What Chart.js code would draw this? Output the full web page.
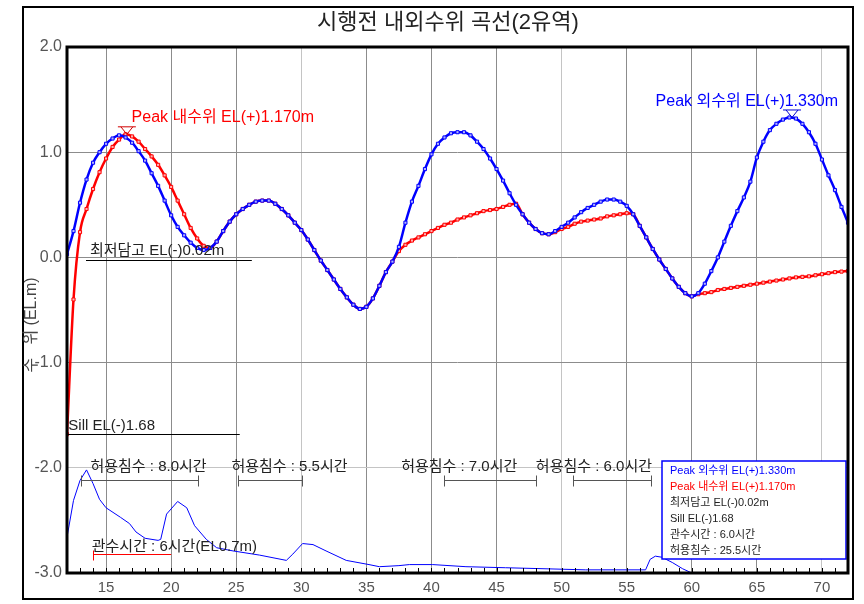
<!DOCTYPE html>
<html lang="ko">
<head>
<meta charset="UTF-8">
<title>시행전 내외수위 곡선(2유역)</title>
<script src="https://cdn.jsdelivr.net/npm/chart.js"></script>
<style>
    html, body { margin: 0; padding: 0; background: #fff; }
    canvas { display: block; }
</style>
</head>
<body>
<canvas id="levelChart" width="864" height="604"></canvas>
<script>
// 시간 (hr) - 0.5시간 간격
const hours = [12,12.5,13,13.5,14,14.5,15,15.5,16,16.5,17,17.5,18,18.5,19,19.5,20,20.5,21,21.5,22,22.5,23,23.5,24,24.5,25,25.5,26,26.5,27,27.5,28,28.5,29,29.5,30,30.5,31,31.5,32,32.5,33,33.5,34,34.5,35,35.5,36,36.5,37,37.5,38,38.5,39,39.5,40,40.5,41,41.5,42,42.5,43,43.5,44,44.5,45,45.5,46,46.5,47,47.5,48,48.5,49,49.5,50,50.5,51,51.5,52,52.5,53,53.5,54,54.5,55,55.5,56,56.5,57,57.5,58,58.5,59,59.5,60,60.5,61,61.5,62,62.5,63,63.5,64,64.5,65,65.5,66,66.5,67,67.5,68,68.5,69,69.5,70,70.5,71,71.5,72];

// 외수위 (EL.m)
const outerLevel = [
    0.03,0.25,0.52,0.74,0.90,1.00,1.08,1.13,1.16,
    1.14,1.09,1.01,0.92,0.80,0.68,0.54,0.40,0.29,
    0.21,0.14,0.09,0.07,0.09,0.15,0.25,0.34,0.41,
    0.46,0.50,0.53,0.54,0.54,0.51,0.46,0.40,0.33,
    0.26,0.17,0.07,-0.03,-0.12,-0.21,-0.30,-0.38,-0.45,
    -0.49,-0.47,-0.39,-0.27,-0.14,-0.04,0.10,0.33,0.53,
    0.68,0.84,0.98,1.08,1.14,1.18,1.19,1.19,1.16,
    1.10,1.03,0.94,0.84,0.73,0.61,0.50,0.41,0.33,
    0.27,0.23,0.22,0.25,0.29,0.33,0.38,0.43,0.47,
    0.50,0.53,0.55,0.55,0.53,0.49,0.41,0.30,0.19,
    0.08,-0.02,-0.11,-0.20,-0.28,-0.34,-0.37,-0.34,-0.25,
    -0.13,0.00,0.15,0.30,0.44,0.57,0.72,0.95,1.10,
    1.21,1.27,1.31,1.33,1.32,1.27,1.19,1.08,0.93,
    0.78,0.64,0.48,0.33
];

// 내수위 (EL.m)
const innerLevel = [
    -1.68,-0.40,0.24,0.46,0.65,0.81,0.94,1.05,1.12,
    1.17,1.15,1.10,1.03,0.96,0.88,0.78,0.67,0.54,
    0.41,0.28,0.18,0.11,0.09,0.15,0.25,0.34,0.41,
    0.46,0.50,0.53,0.54,0.54,0.51,0.46,0.40,0.33,
    0.26,0.17,0.07,-0.03,-0.12,-0.21,-0.30,-0.38,-0.45,
    -0.49,-0.47,-0.39,-0.27,-0.14,-0.04,0.06,0.12,0.16,
    0.19,0.22,0.25,0.28,0.31,0.33,0.36,0.38,0.40,
    0.42,0.44,0.45,0.46,0.48,0.50,0.51,0.41,0.33,
    0.27,0.23,0.22,0.24,0.27,0.29,0.32,0.34,0.35,
    0.36,0.37,0.39,0.40,0.41,0.42,0.41,0.30,0.19,
    0.08,-0.02,-0.11,-0.20,-0.28,-0.34,-0.37,-0.35,-0.34,
    -0.33,-0.31,-0.30,-0.29,-0.28,-0.27,-0.26,-0.25,-0.24,
    -0.23,-0.22,-0.21,-0.20,-0.19,-0.185,-0.18,-0.17,-0.16,
    -0.15,-0.14,-0.135,-0.13
];

// 하단 유입 곡선 (같은 축에 표시)
const flowHours = [12,12.5,13,13.5,14,14.5,15,16.1,16.8,17.3,18,19,19.2,19.65,20.5,21.2,21.8,22.7,23.5,24.75,26.8,28.85,29.35,30.1,30.9,31.9,33.45,35.2,36,37.5,38.3,40.1,42.65,45.7,48.8,51.85,56.45,56.8,57.2,57.7,58.5,59.3,60];
const flowLevel = [-2.66,-2.31,-2.12,-2.02,-2.15,-2.30,-2.38,-2.47,-2.53,-2.61,-2.67,-2.69,-2.68,-2.44,-2.32,-2.38,-2.55,-2.68,-2.76,-2.79,-2.83,-2.88,-2.82,-2.72,-2.73,-2.79,-2.88,-2.92,-2.94,-2.93,-2.92,-2.92,-2.94,-2.95,-2.96,-2.97,-2.97,-2.87,-2.84,-2.85,-2.90,-2.96,-3.0];

const xTickLabels = [15,20,25,30,35,40,45,50,55,60,65,70];
const yTickLabels = [-3,-2,-1,0,1,2];
const lightGridX = [30,50,70];
const lightGridY = [-2];

// 허용침수 구간
const allowTexts = ['허용침수 : 8.0시간','허용침수 : 5.5시간','허용침수 : 7.0시간','허용침수 : 6.0시간'];
const allowTextX = [13.8, 24.63, 37.67, 48.02];
const allowStart = [13.05, 25.1, 41.0, 50.9];
const allowEnd = [22.07, 30.05, 48.0, 56.9];

const legendTexts = ['Peak 외수위 EL(+)1.330m','Peak 내수위 EL(+)1.170m','최저담고 EL(-)0.02m','Sill EL(-)1.68','관수시간 : 6.0시간','허용침수 : 25.5시간'];
const legendColors = ['#0000ff','#ff0000','#222','#222','#222','#222'];

const FONT = '"Liberation Sans", "Noto Sans CJK KR", sans-serif';

const overlay = {
    id: 'overlay',
    afterDatasetsDraw(chart) {
        const { ctx, chartArea: a, scales: { x, y } } = chart;
        const px = v => x.getPixelForValue(v);
        const py = v => y.getPixelForValue(v);
        ctx.save();

        // 작은 눈금
        ctx.strokeStyle = '#000';
        ctx.lineWidth = 1;
        ctx.beginPath();
        for (let h = 13; h <= 71; h++) {
            const xx = Math.round(px(h)) + 0.5;
            ctx.moveTo(xx, a.bottom);
            ctx.lineTo(xx, a.bottom - 5);
        }
        ctx.stroke();

        ctx.textBaseline = 'middle';
        ctx.textAlign = 'left';

        // Peak 표시
        function peakMark(xv, yv, color) {
            const cx = px(xv), cy = py(yv);
            ctx.strokeStyle = color;
            ctx.lineWidth = 1;
            ctx.beginPath();
            ctx.moveTo(cx - 9, cy - 7.5);
            ctx.lineTo(cx + 9, cy - 7.5);
            ctx.moveTo(cx - 6, cy - 7.5);
            ctx.lineTo(cx, cy);
            ctx.lineTo(cx + 6, cy - 7.5);
            ctx.stroke();
        }
        peakMark(16.6, 1.17, '#d00000');
        peakMark(67.7, 1.33, '#0000d0');

        ctx.font = '16px ' + FONT;
        ctx.fillStyle = '#ff0000';
        ctx.fillText('Peak 내수위 EL(+)1.170m', px(16.96), py(1.33));
        ctx.fillStyle = '#0000ff';
        ctx.fillText('Peak 외수위 EL(+)1.330m', px(57.22), py(1.48));

        // 최저담고
        ctx.font = '15px ' + FONT;
        ctx.fillStyle = '#222';
        ctx.fillText('최저담고 EL(-)0.02m', px(13.76), py(0.06));
        ctx.strokeStyle = '#000';
        ctx.beginPath();
        ctx.moveTo(px(13.46), Math.round(py(-0.02)) + 0.5);
        ctx.lineTo(px(26.2), Math.round(py(-0.02)) + 0.5);
        ctx.stroke();

        // Sill
        ctx.fillText('Sill EL(-)1.68', px(12.1), py(-1.6));
        ctx.beginPath();
        ctx.moveTo(a.left, Math.round(py(-1.68)) + 0.5);
        ctx.lineTo(px(25.27), Math.round(py(-1.68)) + 0.5);
        ctx.stroke();

        // 허용침수
        ctx.strokeStyle = '#555';
        for (let i = 0; i < allowTexts.length; i++) {
            ctx.fillStyle = '#222';
            ctx.fillText(allowTexts[i], px(allowTextX[i]), py(-1.99));
            const yy = Math.round(py(-2.117)) + 0.5;
            const x1 = Math.round(px(allowStart[i])) + 0.5;
            const x2 = Math.round(px(allowEnd[i])) + 0.5;
            ctx.beginPath();
            ctx.moveTo(x1, yy); ctx.lineTo(x2, yy);
            ctx.moveTo(x1, yy - 5); ctx.lineTo(x1, yy + 6);
            ctx.moveTo(x2, yy - 5); ctx.lineTo(x2, yy + 6);
            ctx.stroke();
        }

        // 관수시간
        ctx.fillStyle = '#222';
        ctx.fillText('관수시간 : 6시간(EL0.7m)', px(13.9), py(-2.756));
        ctx.strokeStyle = '#ff0000';
        const ry = Math.round(py(-2.823)) + 0.5;
        ctx.beginPath();
        ctx.moveTo(px(14.0), ry); ctx.lineTo(px(20.0), ry);
        ctx.moveTo(Math.round(px(14.0)) + 0.5, ry - 4); ctx.lineTo(Math.round(px(14.0)) + 0.5, ry + 6);
        ctx.stroke();

        // 범례 상자
        ctx.fillStyle = '#fff';
        ctx.fillRect(662, 461, 184, 98);
        ctx.strokeStyle = '#0000ff';
        ctx.lineWidth = 1.5;
        ctx.strokeRect(662, 461, 184, 98);
        ctx.font = '11px ' + FONT;
        legendTexts.forEach((t, i) => {
            ctx.fillStyle = legendColors[i];
            ctx.fillText(t, 670, 471 + i * 16);
        });

        // 그래프 테두리
        ctx.strokeStyle = '#000';
        ctx.lineWidth = 3;
        ctx.strokeRect(a.left, a.top, a.right - a.left, a.bottom - a.top);
        ctx.restore();
    },
    afterDraw(chart) {
        const { ctx } = chart;
        ctx.save();
        // 외곽 테두리
        ctx.strokeStyle = '#000';
        ctx.lineWidth = 2;
        ctx.strokeRect(23, 7, 830, 592);
        // 제목
        ctx.fillStyle = '#222';
        ctx.font = '22px ' + FONT;
        ctx.textAlign = 'center';
        ctx.textBaseline = 'middle';
        ctx.fillText('시행전 내외수위 곡선(2유역)', 448, 23);
        // y축 제목
        ctx.translate(32, 325);
        ctx.rotate(-Math.PI / 2);
        ctx.font = '16px ' + FONT;
        ctx.fillStyle = '#444';
        ctx.fillText('수   위 (EL.m)', 0, 0);
        ctx.restore();
    }
};

const ctx = document.getElementById('levelChart').getContext('2d');
new Chart(ctx, {
    type: 'line',
    data: {
        datasets: [{
            label: '외수위',
            data: hours.map((h, i) => ({ x: h, y: outerLevel[i] })),
            borderColor: '#0000ff',
            borderWidth: 2.5,
            pointStyle: 'rect',
            pointRadius: 2.2,
            pointBorderWidth: 1,
            pointBorderColor: '#0000ff',
            pointBackgroundColor: '#b4b4ff',
            cubicInterpolationMode: 'monotone'
        }, {
            label: '내수위',
            data: hours.map((h, i) => ({ x: h, y: innerLevel[i] })),
            borderColor: '#ff0000',
            borderWidth: 2.5,
            pointStyle: 'rect',
            pointRadius: 2.2,
            pointBorderWidth: 1,
            pointBorderColor: '#ff0000',
            pointBackgroundColor: '#ffb4b4',
            cubicInterpolationMode: 'monotone'
        }, {
            label: '유입',
            data: flowHours.map((h, i) => ({ x: h, y: flowLevel[i] })),
            borderColor: '#0000ff',
            borderWidth: 1,
            pointRadius: 0,
            tension: 0
        }]
    },
    options: {
        responsive: false,
        animation: false,
        devicePixelRatio: 1,
        layout: { padding: { top: 47, right: 16, left: 0, bottom: 0 } },
        plugins: {
            legend: { display: false },
            tooltip: { enabled: false }
        },
        scales: {
            x: {
                type: 'linear',
                min: 12,
                max: 72,
                afterBuildTicks: s => { s.ticks = xTickLabels.map(v => ({ value: v })); },
                afterFit: s => { s.height = 31; },
                grid: {
                    drawTicks: false,
                    color: c => lightGridX.includes(c.tick && c.tick.value) ? '#c4c4c4' : '#8c8c8c'
                },
                border: { display: false },
                ticks: {
                    padding: 6,
                    color: '#555',
                    font: { family: FONT, size: 15 },
                    maxRotation: 0
                }
            },
            y: {
                min: -3,
                max: 2,
                afterBuildTicks: s => { s.ticks = yTickLabels.map(v => ({ value: v })); },
                afterFit: s => { s.width = 67; },
                grid: {
                    drawTicks: false,
                    color: c => lightGridY.includes(c.tick && c.tick.value) ? '#c4c4c4' : '#8c8c8c'
                },
                border: { display: false },
                ticks: {
                    padding: 5,
                    color: '#555',
                    font: { family: FONT, size: 16 },
                    callback: v => v.toFixed(1)
                }
            }
        }
    },
    plugins: [overlay]
});
</script>
</body>
</html>
